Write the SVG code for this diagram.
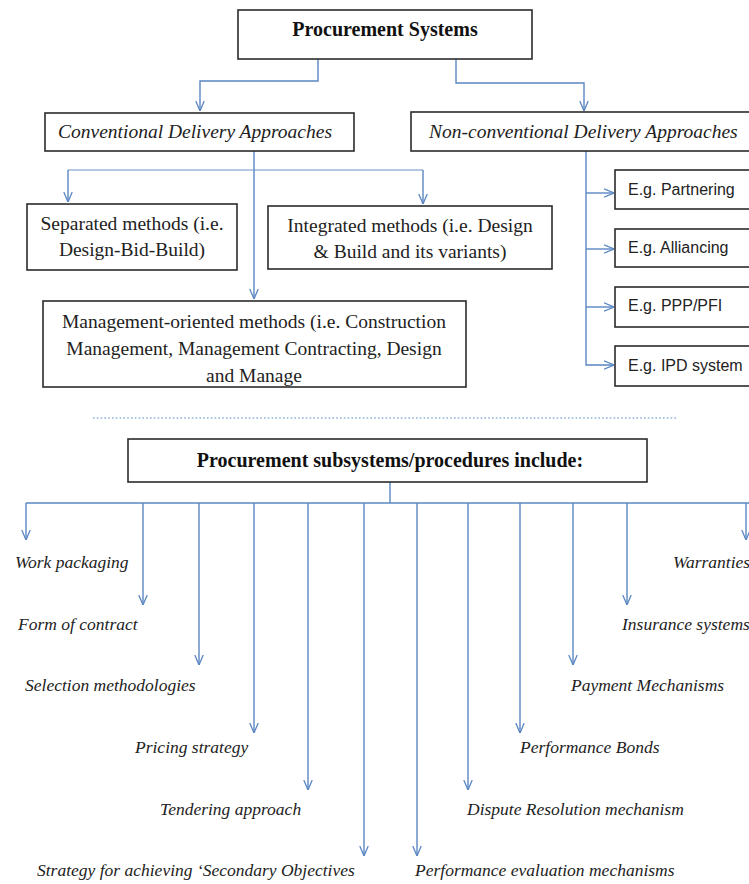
<svg xmlns="http://www.w3.org/2000/svg" width="749" height="884" viewBox="0 0 749 884">
  <style>
    .box { fill: #ffffff; stroke: #2b2b2b; stroke-width: 1.6; }
    .wire { fill: none; stroke: #5b87c2; stroke-width: 1.4; }
    .head { fill: none; stroke: #5b87c2; stroke-width: 1.3; }
    .dots { fill: none; stroke: #8fb2dc; stroke-width: 1.4; stroke-dasharray: 1.6 2.2; }
    .title { font-family: "Liberation Serif", "Times New Roman", serif; font-weight: bold; font-size: 20px; fill: #111; }
    .cat { font-family: "Liberation Serif", "Times New Roman", serif; font-style: italic; font-size: 19.5px; fill: #222; }
    .body { font-family: "Liberation Serif", "Times New Roman", serif; font-size: 19.5px; fill: #222; }
    .eg { font-family: "Liberation Sans", Arial, sans-serif; font-size: 16px; fill: #222; }
    .item { font-family: "Liberation Serif", "Times New Roman", serif; font-style: italic; font-size: 17.5px; fill: #222; }
  </style>
  <defs>
    <marker id="arr" viewBox="0 0 10 10" refX="10" refY="5" markerWidth="10" markerHeight="10" markerUnits="userSpaceOnUse" orient="auto">
      <path class="head" d="M0,0.8 L10,5 L0,9.2"/>
    </marker>
  </defs>

  <rect width="749" height="884" fill="#ffffff"/>

  <!-- connectors -->
  <g id="connectors">
    <!-- top level split -->
    <path class="wire" d="M318,59 V81 H200 V111" marker-end="url(#arr)"/>
    <path class="wire" d="M456,59 V83 H584 V111" marker-end="url(#arr)"/>
    <!-- conventional branch -->
    <path class="wire" d="M254,151 V299" marker-end="url(#arr)"/>
    <path class="wire" d="M68,170 H423" stroke-opacity="0.6"/>
    <path class="wire" d="M68,170 V202" marker-end="url(#arr)"/>
    <path class="wire" d="M423,170 V204" marker-end="url(#arr)"/>
    <!-- non-conventional branch -->
    <path class="wire" d="M586,151 V365 H614" marker-end="url(#arr)"/>
    <path class="wire" d="M586,193 H614" marker-end="url(#arr)"/>
    <path class="wire" d="M586,249 H614" marker-end="url(#arr)"/>
    <path class="wire" d="M586,307 H614" marker-end="url(#arr)"/>
    <!-- section divider -->
    <path class="dots" d="M93,418 H676"/>
    <!-- subsystems fan-out -->
    <path class="wire" d="M390,482 V503"/>
    <path class="wire" d="M26,503 H749"/>
    <path class="wire" d="M26,503 V540" marker-end="url(#arr)"/>
    <path class="wire" d="M143,503 V605" marker-end="url(#arr)"/>
    <path class="wire" d="M199,503 V665" marker-end="url(#arr)"/>
    <path class="wire" d="M254,503 V733" marker-end="url(#arr)"/>
    <path class="wire" d="M308,503 V790" marker-end="url(#arr)"/>
    <path class="wire" d="M364,503 V856" marker-end="url(#arr)"/>
    <path class="wire" d="M417,503 V856" marker-end="url(#arr)"/>
    <path class="wire" d="M468,503 V790" marker-end="url(#arr)"/>
    <path class="wire" d="M520,503 V733" marker-end="url(#arr)"/>
    <path class="wire" d="M573,503 V665" marker-end="url(#arr)"/>
    <path class="wire" d="M627,503 V605" marker-end="url(#arr)"/>
    <path class="wire" d="M746,503 V540" marker-end="url(#arr)"/>
  </g>

  <g id="procurement-systems">
    <rect class="box" x="238" y="10" width="294" height="49"/>
    <text class="title" x="385" y="36" text-anchor="middle">Procurement Systems</text>
  </g>

  <g id="conventional">
    <rect class="box" x="45" y="113" width="309" height="38"/>
    <text class="cat" x="195" y="138" text-anchor="middle">Conventional Delivery Approaches</text>
  </g>

  <g id="non-conventional">
    <rect class="box" x="411" y="112" width="345" height="39"/>
    <text class="cat" x="429" y="138">Non-conventional Delivery Approaches</text>
  </g>

  <g id="separated">
    <rect class="box" x="27" y="204" width="210" height="66"/>
    <text class="body" x="132" y="230" text-anchor="middle">Separated methods (i.e.</text>
    <text class="body" x="132" y="256" text-anchor="middle">Design-Bid-Build)</text>
  </g>

  <g id="integrated">
    <rect class="box" x="268" y="206" width="284" height="63"/>
    <text class="body" x="410" y="232" text-anchor="middle">Integrated methods (i.e. Design</text>
    <text class="body" x="410" y="258" text-anchor="middle">&amp; Build and its variants)</text>
  </g>

  <g id="management">
    <rect class="box" x="43" y="301" width="423" height="86"/>
    <text class="body" x="254" y="328" text-anchor="middle">Management-oriented methods (i.e. Construction</text>
    <text class="body" x="254" y="355" text-anchor="middle">Management, Management Contracting, Design</text>
    <text class="body" x="254" y="382" text-anchor="middle">and Manage</text>
  </g>

  <g id="partnering">
    <rect class="box" x="615" y="170" width="140" height="39"/>
    <text class="eg" x="628" y="195">E.g. Partnering</text>
  </g>
  <g id="alliancing">
    <rect class="box" x="615" y="229" width="140" height="38"/>
    <text class="eg" x="628" y="253">E.g. Alliancing</text>
  </g>
  <g id="ppp-pfi">
    <rect class="box" x="615" y="287" width="140" height="40"/>
    <text class="eg" x="628" y="311">E.g. PPP/PFI</text>
  </g>
  <g id="ipd">
    <rect class="box" x="615" y="346" width="140" height="40"/>
    <text class="eg" x="628" y="371">E.g. IPD system</text>
  </g>

  <g id="subsystems">
    <rect class="box" x="128" y="439" width="519" height="43"/>
    <text class="title" x="390" y="467" text-anchor="middle">Procurement subsystems/procedures include:</text>
  </g>

  <g id="work-packaging"><text class="item" x="15" y="568">Work packaging</text></g>
  <g id="form-of-contract"><text class="item" x="18" y="630">Form of contract</text></g>
  <g id="selection"><text class="item" x="25" y="691">Selection methodologies</text></g>
  <g id="pricing"><text class="item" x="135" y="753">Pricing strategy</text></g>
  <g id="tendering"><text class="item" x="160" y="815">Tendering approach</text></g>
  <g id="secondary-objectives"><text class="item" x="37" y="876">Strategy for achieving ‘Secondary Objectives</text></g>
  <g id="performance-evaluation"><text class="item" x="415" y="876">Performance evaluation mechanisms</text></g>
  <g id="dispute"><text class="item" x="467" y="815">Dispute Resolution mechanism</text></g>
  <g id="bonds"><text class="item" x="520" y="753">Performance Bonds</text></g>
  <g id="payment"><text class="item" x="571" y="691">Payment Mechanisms</text></g>
  <g id="insurance"><text class="item" x="622" y="630">Insurance systems</text></g>
  <g id="warranties"><text class="item" x="673" y="568">Warranties</text></g>
</svg>
